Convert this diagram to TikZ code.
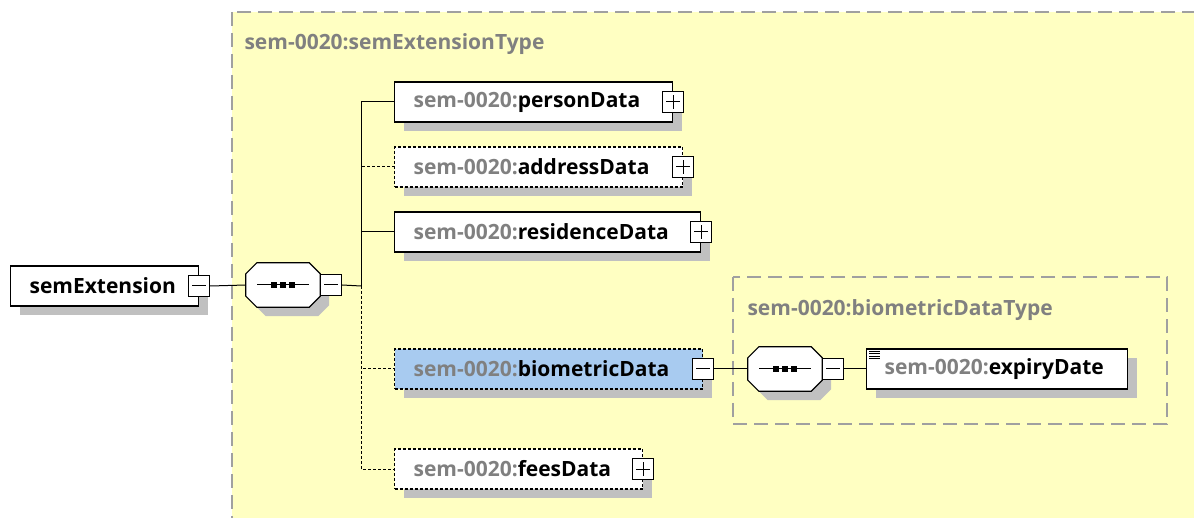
\documentclass[tikz,border=0pt]{standalone}
\usepackage{fontspec}
\setmainfont{Open Sans}
\usetikzlibrary{shadows}

\definecolor{typeyellow}{RGB}{255,255,194}
\definecolor{typeborder}{RGB}{160,160,160}
\definecolor{nsgray}{RGB}{128,128,128}
\definecolor{shadowgray}{RGB}{192,192,192}
\definecolor{selblue}{RGB}{168,203,240}

\newcommand{\nsprefix}{{\color{nsgray}sem-0020:}}
% octagon outline and the sequence symbol for a compositor node
\newcommand{\seqsymbol}[1]{%
  \draw[octagon] ([xshift=11pt]#1.north west) -- ([xshift=-11pt]#1.north east)
    -- ([yshift=-11pt]#1.north east) -- ([yshift=11pt]#1.south east)
    -- ([xshift=-11pt]#1.south east) -- ([xshift=11pt]#1.south west)
    -- ([yshift=11pt]#1.south west) -- ([yshift=-11pt]#1.north west) -- cycle;
  \draw[line width=1pt] ([xshift=-26pt]#1.center) -- ([xshift=26pt]#1.center);
  \foreach \dx in {-9,0,9}
    \fill[black] ([xshift=\dx pt-3pt,yshift=-3pt]#1.center) rectangle ++(6pt,6pt);}

\tikzset{
  schemafont/.style={font=\bfseries\fontsize{21}{24}\selectfont},
  boxshadow/.style={drop shadow={shadow xshift=9pt, shadow yshift=-9pt, fill=shadowgray, opacity=1}},
  elem/.style={draw=black, fill=white, line width=1.2pt, minimum height=40pt,
    inner xsep=19pt, inner ysep=0pt, anchor=west, align=left, schemafont, boxshadow},
  optelem/.style={elem, dash pattern=on 3pt off 2pt},
  typeregion/.style={fill=typeyellow, draw=typeborder, line width=1.2pt, dash pattern=on 14pt off 7pt},
  typetitle/.style={anchor=west, text=nsgray, schemafont},
  pmbox/.style={draw=black, fill=white, line width=1pt, minimum size=21pt, inner sep=0pt},
  plusbox/.style={pmbox, path picture={
      \draw[line width=1pt] ([xshift=-7pt]path picture bounding box.center) -- ([xshift=7pt]path picture bounding box.center);
      \draw[line width=1pt] ([yshift=-7pt]path picture bounding box.center) -- ([yshift=7pt]path picture bounding box.center);}},
  minusbox/.style={pmbox, path picture={
      \draw[line width=1pt] ([xshift=-7pt]path picture bounding box.center) -- ([xshift=7pt]path picture bounding box.center);}},
  seqbox/.style={rectangle, minimum width=74pt, minimum height=44pt, inner sep=0pt},
  octagon/.style={draw=black, fill=white, line width=1.2pt, boxshadow},
  conn/.style={draw=black, line width=1pt},
  optconn/.style={conn, dash pattern=on 3pt off 2pt}
}

\begin{document}
\begin{tikzpicture}[x=1pt,y=-1pt]
\useasboundingbox (0,0) rectangle (1194,518);
\clip (0,0) rectangle (1194,518);

% complex types
\draw[typeregion] (232,12) rectangle (1215,540);
\node[typetitle] (outerTitle) at (241,44) {sem-0020:semExtensionType};
\draw[typeregion] (733,277) rectangle (1167,424);
\node[typetitle] (innerTitle) at (744,310) {sem-0020:biometricDataType};

% root element and sequence
\node[elem, text width=150pt] (semExt) at (10,286) {semExtension};
\node[minusbox] (semExtMinus) at (semExt.east) {};
\node[seqbox] (seqMain) at (283,285) {};
\seqsymbol{seqMain}
\node[minusbox, anchor=west] (seqMainMinus) at (seqMain.east) {};
\coordinate (bus) at (361,286);

% children
\node[elem, text width=240pt] (personData) at (394,102) {\nsprefix personData};
\node[plusbox] (personPlus) at (personData.east) {};
\node[optelem, text width=250pt] (addressData) at (394,167) {\nsprefix addressData};
\node[plusbox] (addressPlus) at (addressData.east) {};
\node[elem, text width=268pt] (residenceData) at (394,232) {\nsprefix residenceData};
\node[plusbox] (residencePlus) at (residenceData.east) {};
\node[optelem, fill=selblue, text width=270pt] (biometricData) at (394,369) {\nsprefix biometricData};
\node[minusbox] (biometricMinus) at (biometricData.east) {};
\node[optelem, text width=210pt] (feesData) at (394,469) {\nsprefix feesData};
\node[plusbox] (feesPlus) at (feesData.east) {};

% biometric data content
\node[seqbox] (seqInner) at (785,369) {};
\seqsymbol{seqInner}
\node[minusbox, anchor=west] (seqInnerMinus) at (seqInner.east) {};
\node[elem, inner xsep=18pt, text width=225pt] (expiryDate) at (866,369) {\nsprefix expiryDate};
\foreach \dy in {0,2.5,5,7.5}
  \draw[line width=0.8pt] ([xshift=3pt,yshift=-3pt-\dy pt]expiryDate.north west) -- ++(11pt,0pt);

% connectors
\draw[conn] (semExtMinus.east) -- (seqMain.west);
\draw[conn] (seqMainMinus.east) -- (bus);
\draw[conn] (bus) |- (personData.west);
\draw[conn] (bus) |- (residenceData.west);
\draw[optconn] (bus) |- (addressData.west);
\draw[optconn] (bus) |- (biometricData.west);
\draw[optconn] (bus) |- (feesData.west);
\draw[conn] (biometricMinus.east) -- (seqInner.west);
\draw[conn] (seqInnerMinus.east) -- (expiryDate.west);
\end{tikzpicture}
\end{document}
